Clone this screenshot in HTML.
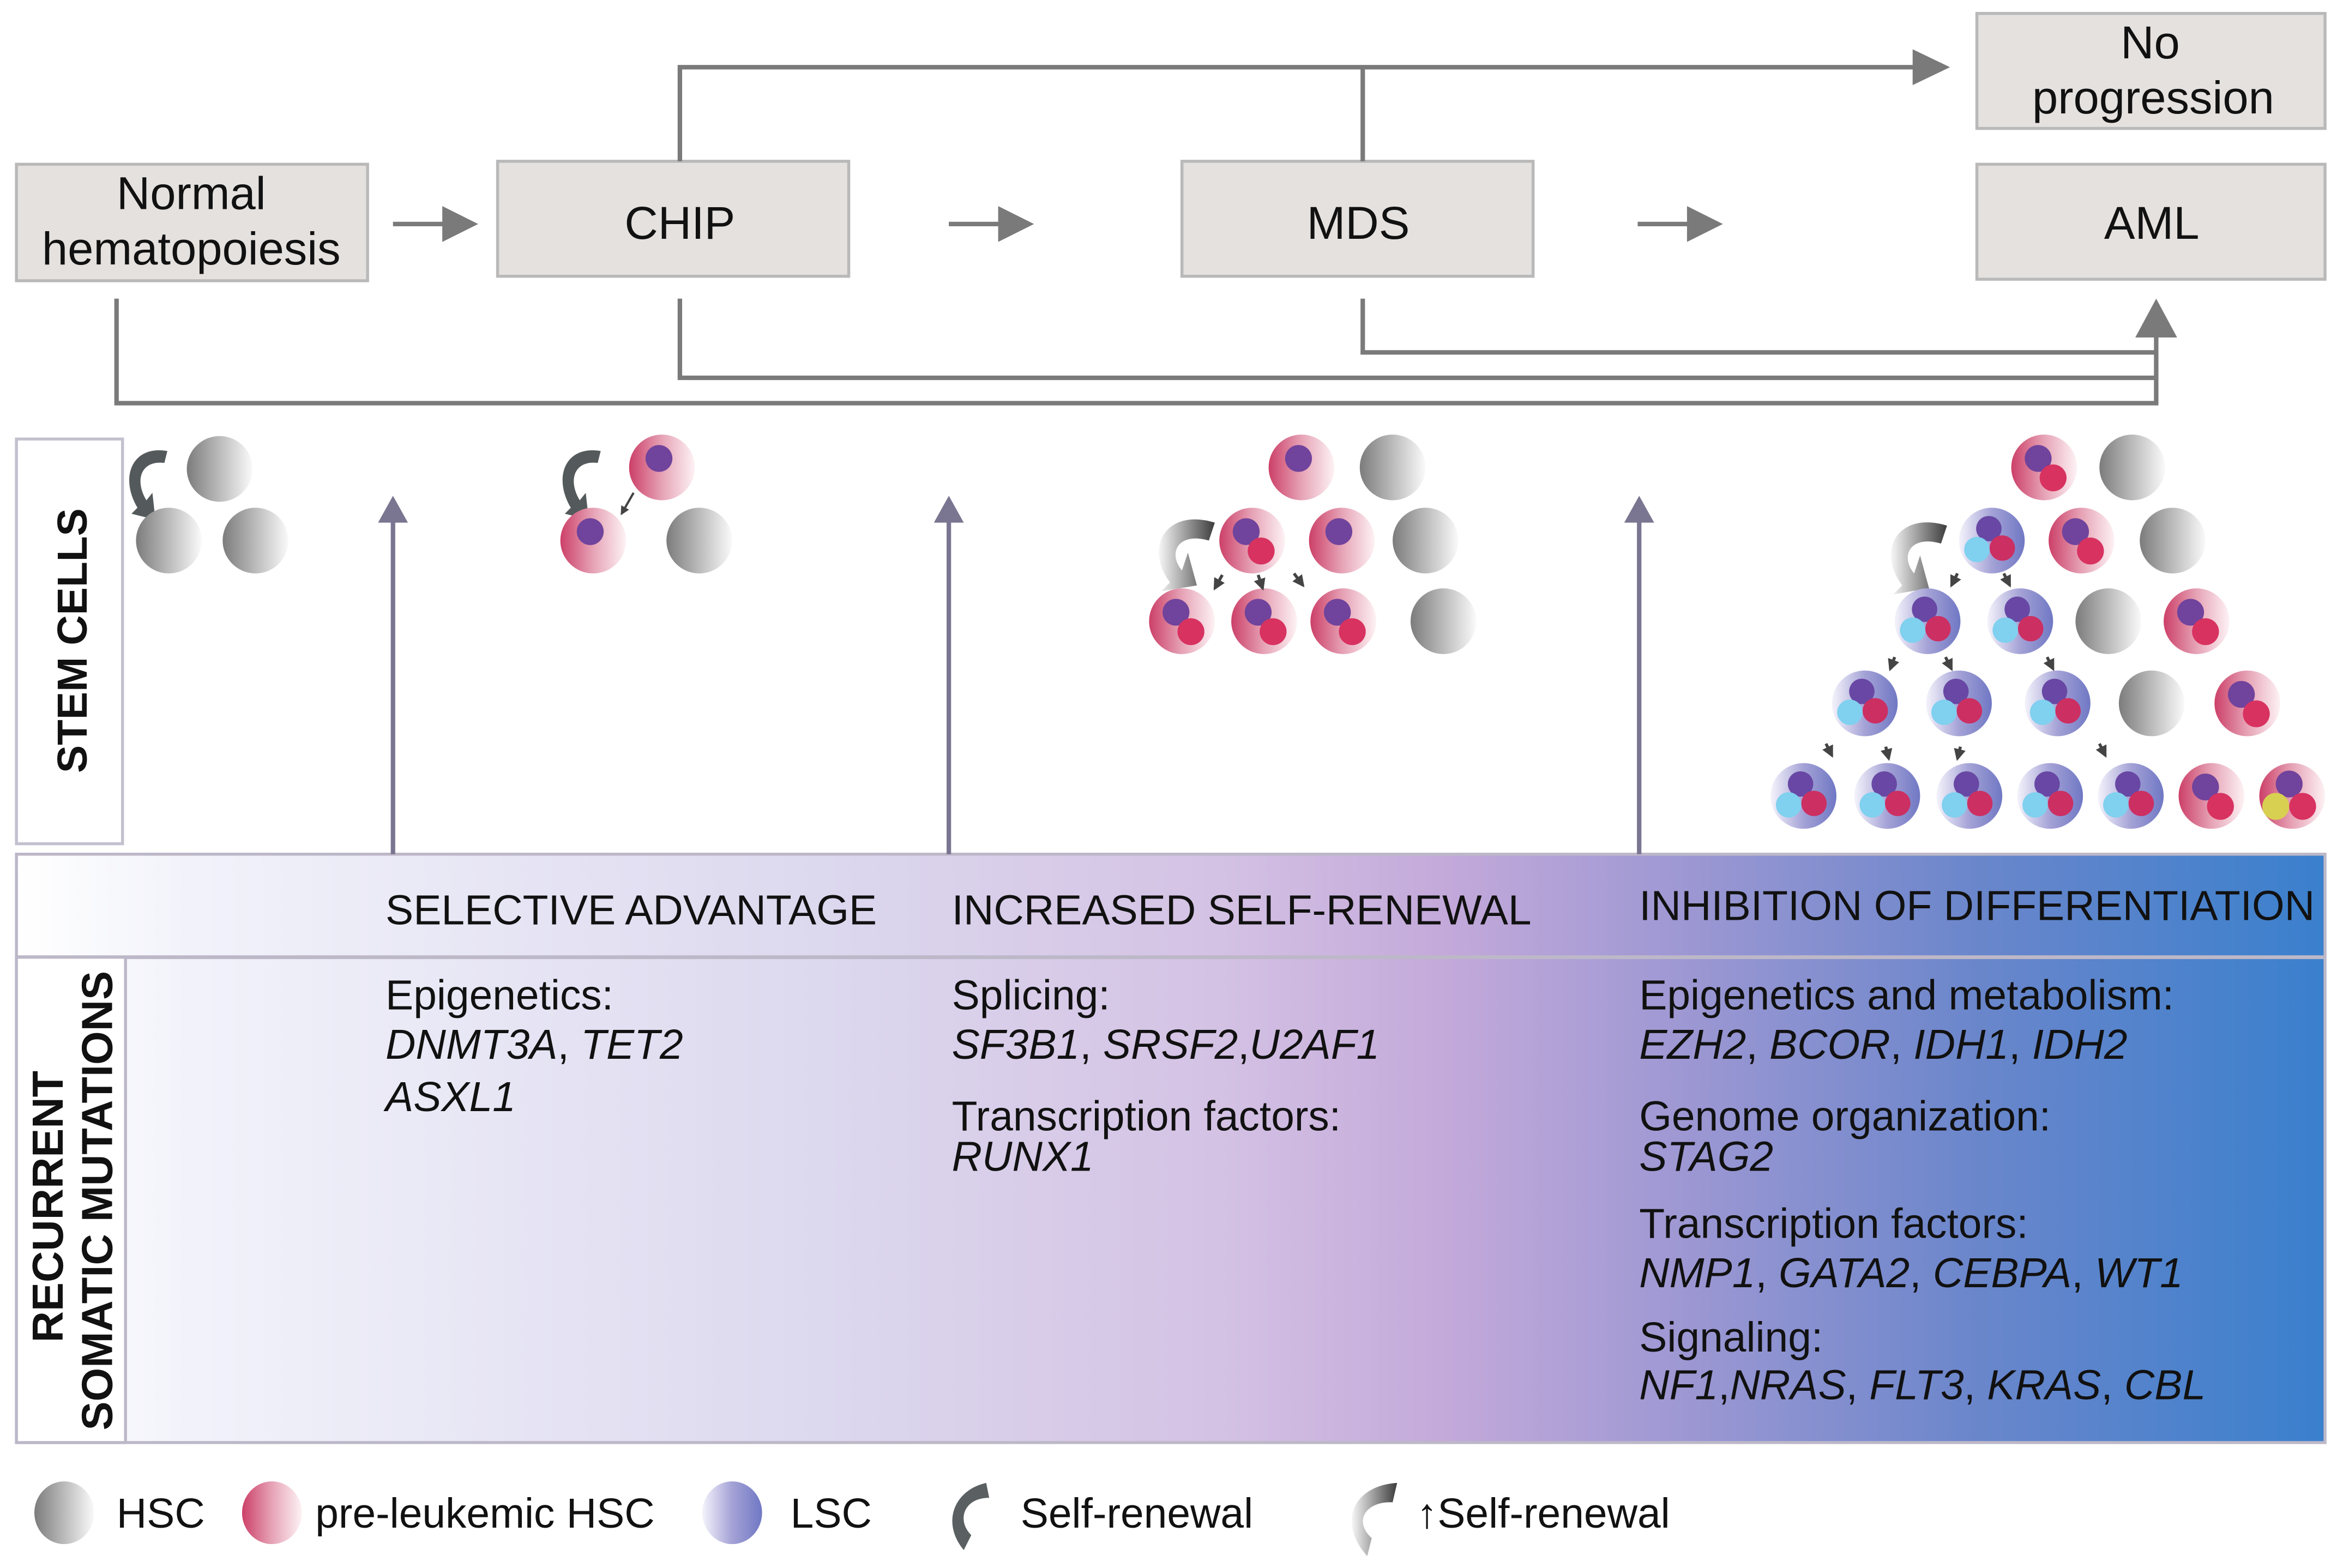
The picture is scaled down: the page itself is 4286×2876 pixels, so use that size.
<!DOCTYPE html>
<html><head><meta charset="utf-8"><style>
html,body{margin:0;padding:0;background:#fff;}
svg{display:block;}
text{font-family:"Liberation Sans",sans-serif;fill:#111;}
.it{font-style:italic;}
</style></head><body>
<svg width="4286" height="2876" viewBox="0 0 1564 1050" preserveAspectRatio="none" xmlns="http://www.w3.org/2000/svg">
<defs>
<linearGradient id="gH" x1="0" x2="1"><stop offset="0" stop-color="#7c7c7c"/><stop offset="1" stop-color="#fafafa"/></linearGradient>
<linearGradient id="gP" x1="0" x2="1"><stop offset="0" stop-color="#cc4068"/><stop offset="0.5" stop-color="#e6a3b6"/><stop offset="1" stop-color="#fdf2f5"/></linearGradient>
<linearGradient id="gL" x1="0" x2="1"><stop offset="0" stop-color="#f4f3fb"/><stop offset="0.5" stop-color="#a4a2d6"/><stop offset="1" stop-color="#7078c4"/></linearGradient>
<linearGradient id="gA" x1="0" x2="1"><stop offset="0" stop-color="#f7f7f7"/><stop offset="1" stop-color="#3c3c3c"/></linearGradient>
<linearGradient id="band" x1="0" x2="1">
<stop offset="0" stop-color="#ffffff"/><stop offset="0.08" stop-color="#f1f2fa"/><stop offset="0.35" stop-color="#dcd8ee"/><stop offset="0.52" stop-color="#d4c2e4"/><stop offset="0.62" stop-color="#c3a9da"/><stop offset="0.72" stop-color="#9e98d3"/><stop offset="0.85" stop-color="#6a86cb"/><stop offset="1" stop-color="#3a80cd"/></linearGradient>
<g id="H"><ellipse rx="22" ry="22" fill="url(#gH)"/></g>
<g id="P0"><ellipse rx="22" ry="22" fill="url(#gP)"/><ellipse cx="-2" cy="-6" rx="9" ry="9" fill="#70439c"/></g>
<g id="P"><ellipse rx="22" ry="22" fill="url(#gP)"/><ellipse cx="-4" cy="-6" rx="9" ry="9" fill="#70439c"/><ellipse cx="6" cy="7" rx="9" ry="9" fill="#d83260"/></g>
<g id="L"><ellipse rx="22" ry="22" fill="url(#gL)"/><ellipse cx="-2" cy="-8" rx="8.5" ry="8.5" fill="#6848a4"/><ellipse cx="-10" cy="6" rx="8.5" ry="8.5" fill="#80d0ef"/><ellipse cx="7" cy="5" rx="8.5" ry="8.5" fill="#cc2f62"/></g>
<g id="SR"><path d="M10,-20 C-14,-24 -22,-2 -10,18 L-14,22 L2,26 L0,8 L-4,13 C-12,0 -8,-14 8,-12 Z" fill="#545a5c"/></g>
<g id="SR2"><path d="M18,-20 C-14,-30 -30,-4 -12,20 L-18,26 L6,22 L0,0 L-4,12 C-14,0 -6,-14 14,-8 Z" fill="url(#gA)"/></g>
<marker id="ah" viewBox="0 0 10 10" refX="8" refY="5" markerWidth="4" markerHeight="4" orient="auto"><path d="M0,0 L10,5 L0,10 Z" fill="#444"/></marker>
</defs>

<g fill="#e4e1df" stroke="#b9b9b9" stroke-width="2">
<rect x="11" y="110" width="235" height="78"/>
<rect x="333" y="108" width="235" height="77"/>
<rect x="791" y="108" width="235" height="77"/>
<rect x="1323" y="110" width="233" height="77"/>
<rect x="1323" y="9" width="233" height="77"/>
</g>
<g font-size="31" text-anchor="middle">
<text x="128" y="140">Normal</text><text x="128" y="177">hematopoiesis</text>
<text x="455" y="160">CHIP</text>
<text x="909" y="160">MDS</text>
<text x="1440" y="160">AML</text>
<text x="1439" y="39">No</text><text x="1441" y="76">progression</text>
</g>
<g stroke="#7a7a7a" stroke-width="3" fill="#7a7a7a">
<line x1="263" y1="150" x2="298" y2="150"/><polygon points="296,138 320,150 296,162" stroke="none"/>
<line x1="635" y1="150" x2="670" y2="150"/><polygon points="668,138 692,150 668,162" stroke="none"/>
<line x1="1096" y1="150" x2="1131" y2="150"/><polygon points="1129,138 1153,150 1129,162" stroke="none"/>
</g>
<g stroke="#7a7a7a" stroke-width="3" fill="none">
<polyline points="455,108 455,45 1282,45"/>
<line x1="912" y1="45" x2="912" y2="108"/>
<polyline points="78,200 78,270 1443,270 1443,222"/>
<polyline points="455,200 455,253 1443,253"/>
<polyline points="912,200 912,236 1443,236"/>
</g>
<polygon points="1280,33 1305,45 1280,57" fill="#7a7a7a"/>
<polygon points="1429,226 1443,200 1457,226" fill="#7a7a7a"/>

<rect x="11" y="294" width="71" height="271" fill="#fff" stroke="#c4c0cf" stroke-width="2"/>
<text transform="translate(58,429) rotate(-90)" font-size="28" font-weight="bold" text-anchor="middle">STEM CELLS</text>

<rect x="11" y="572" width="1545" height="394" fill="url(#band)" stroke="#bdb8c8" stroke-width="2"/>
<line x1="11" y1="641" x2="1556" y2="641" stroke="#bdb8c8" stroke-width="2.5"/>
<rect x="11" y="641" width="73" height="325" fill="#fff" stroke="#bdb8c8" stroke-width="2"/>
<g font-size="29" font-weight="bold" text-anchor="middle">
<text transform="translate(42,808) rotate(-90)">RECURRENT</text>
<text transform="translate(75,804) rotate(-90)">SOMATIC MUTATIONS</text>
</g>
<g font-size="28">
<text x="258" y="619">SELECTIVE ADVANTAGE</text>
<text x="637" y="619">INCREASED SELF-RENEWAL</text>
<text x="1097" y="616">INHIBITION OF DIFFERENTIATION</text>
<text x="258" y="676">Epigenetics:</text>
<text x="258" y="709"><tspan class="it">DNMT3A</tspan>, <tspan class="it">TET2</tspan></text>
<text x="258" y="744" class="it">ASXL1</text>
<text x="637" y="676">Splicing:</text>
<text x="637" y="709"><tspan class="it">SF3B1</tspan>, <tspan class="it">SRSF2</tspan>,<tspan class="it">U2AF1</tspan></text>
<text x="637" y="757">Transcription factors:</text>
<text x="637" y="784" class="it">RUNX1</text>
<text x="1097" y="676">Epigenetics and metabolism:</text>
<text x="1097" y="709"><tspan class="it">EZH2</tspan>, <tspan class="it">BCOR</tspan>, <tspan class="it">IDH1</tspan>, <tspan class="it">IDH2</tspan></text>
<text x="1097" y="757">Genome organization:</text>
<text x="1097" y="784" class="it">STAG2</text>
<text x="1097" y="829">Transcription factors:</text>
<text x="1097" y="862"><tspan class="it">NMP1</tspan>, <tspan class="it">GATA2</tspan>, <tspan class="it">CEBPA</tspan>, <tspan class="it">WT1</tspan></text>
<text x="1097" y="905">Signaling:</text>
<text x="1097" y="937"><tspan class="it">NF1</tspan>,<tspan class="it">NRAS</tspan>, <tspan class="it">FLT3</tspan>, <tspan class="it">KRAS</tspan>, <tspan class="it">CBL</tspan></text>
</g>

<g stroke="#7a7590" stroke-width="3" fill="#7a7590">
<line x1="263" y1="572" x2="263" y2="345"/><polygon points="253,350 263,332 273,350" stroke="none"/>
<line x1="635" y1="572" x2="635" y2="345"/><polygon points="625,350 635,332 645,350" stroke="none"/>
<line x1="1097" y1="572" x2="1097" y2="345"/><polygon points="1087,350 1097,332 1107,350" stroke="none"/>
</g>

<use href="#SR" x="102" y="322"/>
<use href="#H" x="147" y="314"/><use href="#H" x="113" y="362"/><use href="#H" x="171" y="362"/>
<use href="#SR" x="392" y="322"/>
<use href="#P0" x="443" y="313"/><use href="#P0" x="397" y="362"/><use href="#H" x="468" y="362"/>
<line x1="424" y1="330" x2="416" y2="344" stroke="#444" stroke-width="1.5" marker-end="url(#ah)"/>
<use href="#P0" x="871" y="313"/><use href="#H" x="932" y="313"/>
<use href="#SR2" x="795" y="370"/>
<use href="#P" x="838" y="362"/><use href="#P0" x="898" y="362"/><use href="#H" x="954" y="362"/>
<use href="#P" x="791" y="416"/><use href="#P" x="846" y="416"/><use href="#P" x="899" y="416"/><use href="#H" x="966" y="416"/>
<g stroke="#444" stroke-width="2" marker-end="url(#ah)"><line x1="818" y1="385" x2="813" y2="394"/><line x1="842" y1="385" x2="845" y2="394"/><line x1="866" y1="384" x2="872" y2="392"/></g>
<use href="#P" x="1368" y="313"/><use href="#H" x="1427" y="313"/>
<use href="#SR2" x="1285" y="372"/>
<use href="#L" x="1333" y="362"/><use href="#P" x="1393" y="362"/><use href="#H" x="1454" y="362"/>
<use href="#L" x="1290" y="416"/><use href="#L" x="1352" y="416"/><use href="#H" x="1411" y="416"/><use href="#P" x="1470" y="416"/>
<use href="#L" x="1248" y="471"/><use href="#L" x="1311" y="471"/><use href="#L" x="1377" y="471"/><use href="#H" x="1440" y="471"/><use href="#P" x="1504" y="471"/>
<use href="#L" x="1207" y="533"/><use href="#L" x="1263" y="533"/><use href="#L" x="1318" y="533"/><use href="#L" x="1372" y="533"/><use href="#L" x="1426" y="533"/><use href="#P" x="1480" y="533"/>
<g><ellipse cx="1534" cy="533" rx="22" ry="22" fill="url(#gP)"/><ellipse cx="1532" cy="525" rx="9" ry="9" fill="#70439c"/><ellipse cx="1523" cy="540" rx="9" ry="9" fill="#d8d050"/><ellipse cx="1541" cy="540" rx="9" ry="9" fill="#d83260"/></g>
<g stroke="#444" stroke-width="2" marker-end="url(#ah)">
<line x1="1310" y1="384" x2="1306" y2="392"/><line x1="1341" y1="384" x2="1345" y2="392"/>
<line x1="1268" y1="440" x2="1265" y2="448"/><line x1="1302" y1="440" x2="1306" y2="448"/><line x1="1370" y1="440" x2="1374" y2="448"/>
<line x1="1222" y1="498" x2="1226" y2="506"/><line x1="1262" y1="500" x2="1264" y2="508"/><line x1="1312" y1="500" x2="1310" y2="508"/><line x1="1405" y1="498" x2="1409" y2="506"/>
</g>

<ellipse cx="43" cy="1013" rx="20" ry="21" fill="url(#gH)"/>
<ellipse cx="182" cy="1013" rx="20" ry="21" fill="url(#gP)"/>
<ellipse cx="490" cy="1013" rx="20" ry="21" fill="url(#gL)"/>
<path d="M660,993 C638,998 630,1020 645,1038 L650,1028 C640,1018 645,1003 662,1003 Z" fill="#5a6062"/>
<path d="M935,993 C905,995 895,1020 915,1042 L918,1030 C905,1018 915,1005 932,1006 Z" fill="url(#gA)"/>
<g font-size="28">
<text x="78" y="1023">HSC</text>
<text x="211" y="1023">pre-leukemic HSC</text>
<text x="529" y="1023">LSC</text>
<text x="683" y="1023">Self-renewal</text>
<text x="948" y="1023">↑Self-renewal</text>
</g>
</svg>
</body></html>
